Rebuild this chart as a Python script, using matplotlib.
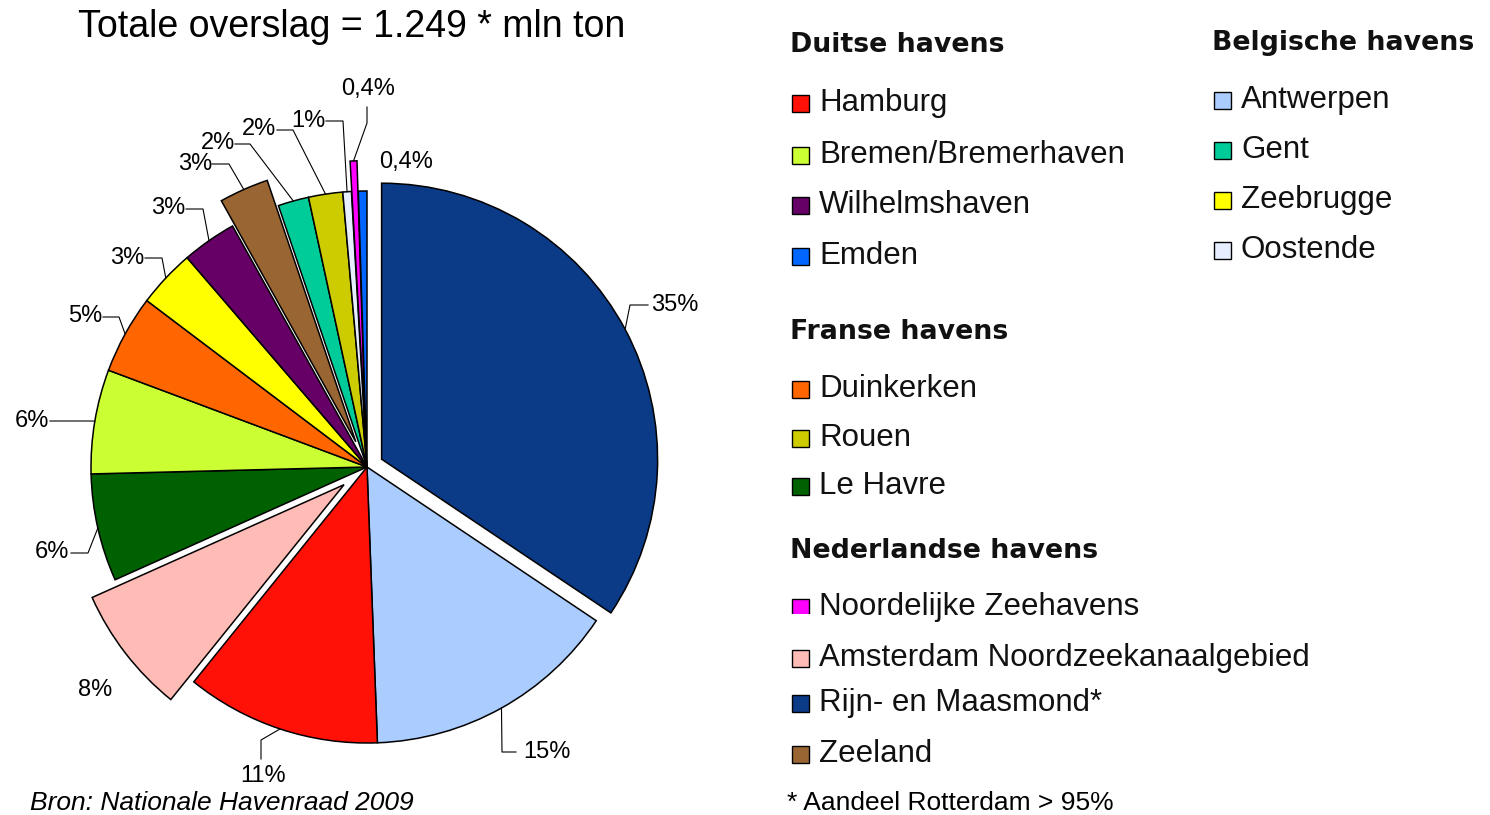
import numpy as np
import matplotlib
matplotlib.use('Agg')
import matplotlib.pyplot as plt
from matplotlib.patches import Rectangle

# Pie order: clockwise from 12 o'clock
PORTS = ['Rijn- en Maasmond*', 'Antwerpen', 'Hamburg',
         'Amsterdam Noordzeekanaalgebied', 'Le Havre', 'Bremen/Bremerhaven',
         'Duinkerken', 'Zeebrugge', 'Wilhelmshaven', 'Zeeland', 'Gent',
         'Rouen', 'Oostende', 'Noordelijke Zeehavens', 'Emden']
SHARE = [34.4, 15.0, 11.4, 7.5, 6.3, 6.1, 4.6, 3.4, 3.2, 2.9, 1.8, 2.0,
         0.5, 0.4, 0.5]
PCT_LABELS = ['35%', '15%', '11%', '8%', '6%', '6%', '5%', '3%', '3%', '3%',
              '2%', '2%', '1%', '0,4%', '0,4%']
COLORS = ['#0b3a87', '#aaccff', '#ff1108', '#ffbbb5', '#006100', '#ccff33',
          '#ff6600', '#ffff00', '#660066', '#996633', '#00cc99', '#cccc00',
          '#e6eeff', '#ff00ff', '#0066ff']
EXPLODE = {'Rijn- en Maasmond*': 0.06, 'Amsterdam Noordzeekanaalgebied': 0.105,
           'Zeeland': 0.10, 'Noordelijke Zeehavens': 0.11}

GROUPS = [
    ('Duitse havens', ['Hamburg', 'Bremen/Bremerhaven', 'Wilhelmshaven', 'Emden']),
    ('Belgische havens', ['Antwerpen', 'Gent', 'Zeebrugge', 'Oostende']),
    ('Franse havens', ['Duinkerken', 'Rouen', 'Le Havre']),
    ('Nederlandse havens', ['Noordelijke Zeehavens',
                            'Amsterdam Noordzeekanaalgebied',
                            'Rijn- en Maasmond*', 'Zeeland']),
]

TITLE = 'Totale overslag = 1.249 * mln ton'
SOURCE = 'Bron: Nationale Havenraad 2009'
FOOTNOTE = '* Aandeel Rotterdam > 95%'

# ---- layout (pixels) ----
W, H = 1490, 815
CX, CY, R = 367, 467, 276          # pie centre and radius
PIE_W = 760

# label: text centre, elbow of leader, leader end next to the text
LABEL_LAYOUT = [
    ((675, 305), (630, 305), (648, 305)),
    ((547, 752), (502, 752), (516, 752)),
    ((263, 776), (261, 740), (261, 759)),
    ((95, 690), None, None),
    ((52, 552), (88, 553), (71, 553)),
    ((32, 421), (93, 421), (50, 421)),
    ((85, 316), (119, 317), (103, 317)),
    ((127, 258), (162, 258), (145, 258)),
    ((168, 208), (203, 209), (186, 209)),
    ((195, 164), (229, 164), (212, 164)),
    ((218, 143), (250, 144), (235, 144)),
    ((259, 129), (293, 130), (277, 130)),
    ((308, 121), (343, 121), (326, 121)),
    ((368, 89), (367, 123), (367, 107)),
    ((406, 162), None, None),
]

# header x, header y, row y's
GROUP_LAYOUT = [
    (790, 45, [103, 155, 205, 256]),
    (1212, 43, [100, 150, 200, 250]),
    (790, 332, [389, 438, 486]),
    (790, 551, [607, 658, 703, 754]),
]
CLIP_ROW = {'Noordelijke Zeehavens': 614}   # row cut off at the bottom

SANS = 'Liberation Sans'


def px(x, y):
    return (x - CX) / R, (CY - y) / R


fig = plt.figure(figsize=(W / 100, H / 100), dpi=100)

ax = fig.add_axes([0, 0, PIE_W / W, 1])
explode = [EXPLODE.get(p, 0) for p in PORTS]
wedges, _ = ax.pie(SHARE, colors=COLORS, explode=explode, startangle=90,
                   counterclock=False,
                   wedgeprops=dict(edgecolor='black', linewidth=1.1))
ax.set_xlim(-CX / R, (PIE_W - CX) / R)
ax.set_ylim((CY - H) / R, CY / R)
ax.set_aspect('auto')
ax.axis('off')

for w, lab, (tpos, elbow, end) in zip(wedges, PCT_LABELS, LABEL_LAYOUT):
    tx, ty = px(*tpos)
    ax.text(tx, ty, lab, ha='center', va='center', fontsize=17, family=SANS)
    if elbow is None:
        continue
    mid = np.deg2rad((w.theta1 + w.theta2) / 2)
    cx, cy = w.center
    rx, ry = cx + w.r * np.cos(mid), cy + w.r * np.sin(mid)
    ex, ey = px(*elbow)
    nx, ny = px(*end)
    ax.plot([rx, ex, nx], [ry, ey, ny], color='black', lw=0.8)

# overlay in pixel coordinates for title, legend and notes
lax = fig.add_axes([0, 0, 1, 1])
lax.set_xlim(0, W)
lax.set_ylim(H, 0)
lax.axis('off')
lax.patch.set_alpha(0)

lax.text(352, 27, TITLE, ha='center', va='center', fontsize=27, family=SANS)
lax.text(30, 803, SOURCE, ha='left', va='center', fontsize=19,
         family=SANS, style='italic')
lax.text(787, 803, FOOTNOTE, ha='left', va='center', fontsize=19, family=SANS)

color_of = dict(zip(PORTS, COLORS))
for (header, names), (hx, hy, rows) in zip(GROUPS, GROUP_LAYOUT):
    lax.text(hx, hy, header, ha='left', va='center', fontsize=19.3,
             family='DejaVu Sans', weight='bold', color='#111111')
    for name, ry in zip(names, rows):
        sq = Rectangle((hx + 2, ry - 8.5), 17, 17, facecolor=color_of[name],
                       edgecolor='black', lw=1.0)
        lax.add_patch(sq)
        t = lax.text(hx + 29, ry, name, ha='left', va='center', fontsize=22.5,
                     family=SANS, color='#111111')
        if name in CLIP_ROW:
            clip = Rectangle((hx - 5, 0), 700, CLIP_ROW[name],
                             transform=lax.transData)
            t.set_clip_path(clip)
            sq.set_clip_path(clip)

fig.savefig('out.png', dpi=100)
